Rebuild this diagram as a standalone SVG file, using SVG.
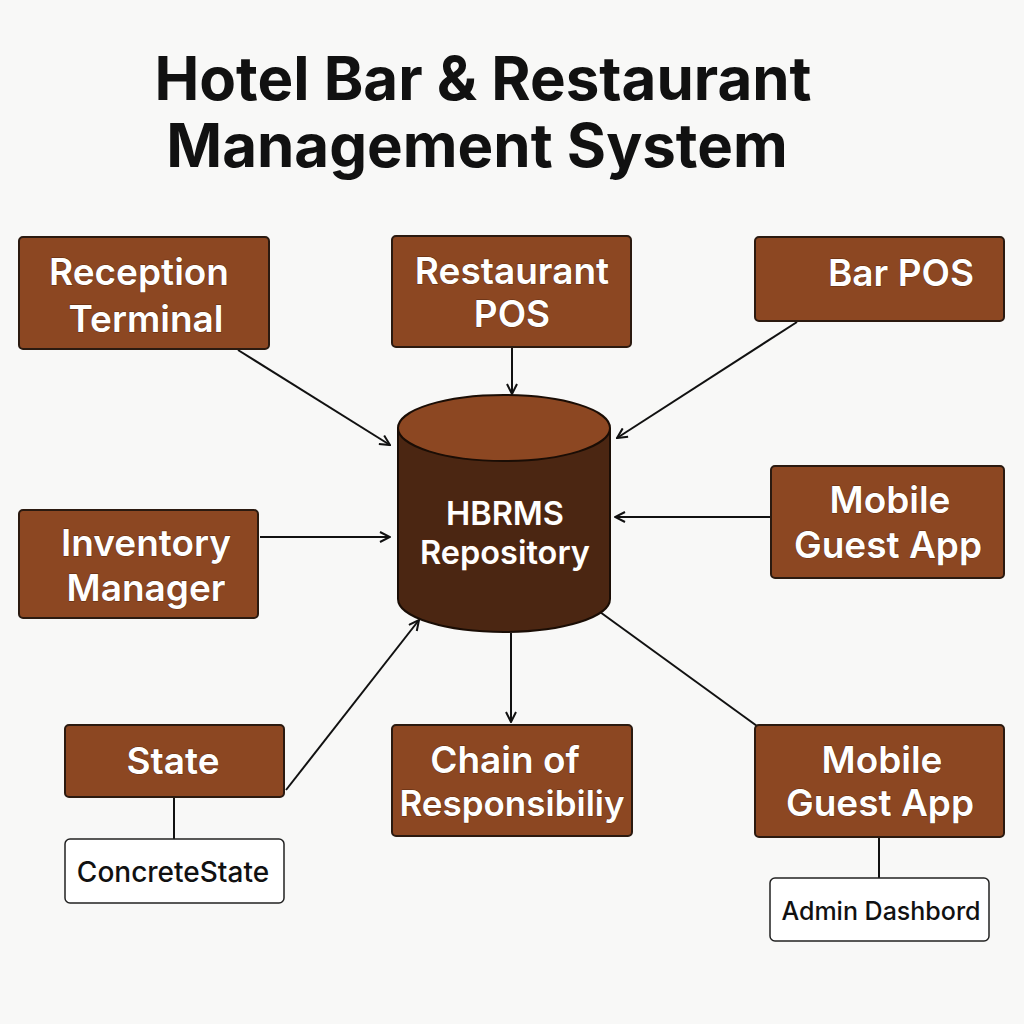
<svg xmlns="http://www.w3.org/2000/svg" width="1024" height="1024" viewBox="0 0 1024 1024">
<defs>
<style>
.box{fill:#8c4722;stroke:#2b1a10;stroke-width:2}
.wbox{fill:#ffffff;stroke:#222;stroke-width:1.5}
.lbl{font-family:"Inter","Liberation Sans",sans-serif;font-weight:600;font-size:37px;fill:#fff;stroke:#5a2a10;stroke-width:0.8;paint-order:stroke;text-anchor:middle}
.wlbl{font-family:"Inter","Liberation Sans",sans-serif;font-weight:500;font-size:28px;fill:#111;text-anchor:middle}
.title{font-family:"Inter","Liberation Sans",sans-serif;font-weight:700;font-size:60px;fill:#111;text-anchor:middle}
.conn{stroke:#111;stroke-width:2;fill:none}
</style>
<marker id="arr" viewBox="0 0 12 12" refX="11" refY="6" markerWidth="12" markerHeight="12" markerUnits="userSpaceOnUse" orient="auto">
<path d="M1,1 L11,6 L1,11" fill="none" stroke="#111" stroke-width="2"/>
</marker>
</defs>
<rect width="1024" height="1024" fill="#f8f8f7"/>
<g id="title">
<text class="title" x="483" y="100">Hotel Bar &amp; Restaurant</text>
<text class="title" x="477" y="167">Management System</text>
</g>
<g id="connectors">
<line class="conn" x1="238" y1="350" x2="390" y2="445" marker-end="url(#arr)"/>
<line class="conn" x1="512" y1="348" x2="512" y2="394" marker-end="url(#arr)"/>
<line class="conn" x1="797" y1="322" x2="617" y2="438" marker-end="url(#arr)"/>
<line class="conn" x1="771" y1="517" x2="615" y2="517" marker-end="url(#arr)"/>
<line class="conn" x1="260" y1="537" x2="390" y2="537" marker-end="url(#arr)"/>
<line class="conn" x1="286" y1="790" x2="419" y2="620" marker-end="url(#arr)"/>
<line class="conn" x1="511" y1="633" x2="511" y2="722" marker-end="url(#arr)"/>
<line class="conn" x1="600" y1="612" x2="757" y2="726"/>
<line class="conn" x1="174" y1="797" x2="174" y2="839"/>
<line class="conn" x1="879" y1="837" x2="879" y2="878"/>
</g>
<g id="repository">
<path d="M398,428 L398,599 A106,33 0 0 0 610,599 L610,428" fill="#4b2612" stroke="#1a0d05" stroke-width="2"/>
<ellipse cx="504" cy="428" rx="106" ry="33" fill="#8c4722" stroke="#1a0d05" stroke-width="2"/>
<text class="lbl" x="505" y="525" style="font-size:32.5px">HBRMS</text>
<text class="lbl" x="505" y="564" style="font-size:32.5px">Repository</text>
</g>
<g id="reception">
<rect class="box" x="19" y="237" width="250" height="112" rx="4"/>
<text class="lbl" x="139" y="285">Reception</text>
<text class="lbl" x="146" y="332">Terminal</text>
</g>
<g id="restaurant-pos">
<rect class="box" x="392" y="236" width="239" height="111" rx="4"/>
<text class="lbl" x="512" y="284">Restaurant</text>
<text class="lbl" x="512" y="327">POS</text>
</g>
<g id="bar-pos">
<rect class="box" x="755" y="237" width="249" height="84" rx="4"/>
<text class="lbl" x="901" y="286">Bar POS</text>
</g>
<g id="mobile-guest-app-1">
<rect class="box" x="771" y="466" width="233" height="112" rx="4"/>
<text class="lbl" x="890" y="513">Mobile</text>
<text class="lbl" x="888" y="558">Guest App</text>
</g>
<g id="inventory">
<rect class="box" x="19" y="510" width="239" height="108" rx="4"/>
<text class="lbl" x="146" y="556">Inventory</text>
<text class="lbl" x="146" y="601">Manager</text>
</g>
<g id="state">
<rect class="box" x="65" y="725" width="219" height="72" rx="4"/>
<text class="lbl" x="173" y="774">State</text>
</g>
<g id="concrete-state">
<rect class="wbox" x="65" y="839" width="219" height="64" rx="5"/>
<text class="wlbl" x="173" y="882">ConcreteState</text>
</g>
<g id="chain">
<rect class="box" x="392" y="725" width="240" height="111" rx="4"/>
<text class="lbl" x="505" y="773">Chain of</text>
<text class="lbl" x="512" y="816" style="font-size:35px">Responsibiliy</text>
</g>
<g id="mobile-guest-app-2">
<rect class="box" x="755" y="725" width="249" height="112" rx="4"/>
<text class="lbl" x="882" y="773">Mobile</text>
<text class="lbl" x="880" y="816">Guest App</text>
</g>
<g id="admin-dashboard">
<rect class="wbox" x="770" y="878" width="219" height="63" rx="5"/>
<text class="wlbl" x="881" y="920" style="font-size:25px">Admin Dashbord</text>
</g>
</svg>
